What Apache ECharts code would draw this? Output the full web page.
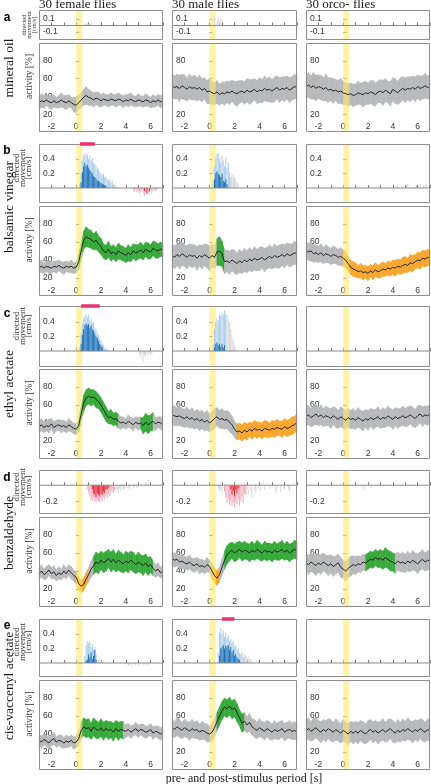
<!DOCTYPE html>
<html><head><meta charset="utf-8">
<script src="https://cdn.jsdelivr.net/npm/echarts@6/dist/echarts.min.js"></script>
<style>html,body{margin:0;padding:0;background:#fff}#c{width:431px;height:784px}</style>
</head><body><div id="c"></div><script>
// ---------------- DATA ----------------
const rowKeys = ['a','b','c','d','e'];
const colKeys = ['F','M','O'];
const rowNames = ['mineral oil','balsamic vinegar','ethyl acetate','benzaldehyde','cis-vaccenyl acetate'];
const colTitles = ['30 female flies','30 male flies','30 orco- flies'];
const xAxisTitle = 'pre- and post-stimulus period [s]';
const xTickLabels = [-2,0,2,4,6];
const activityTicks = [20,40,60,80];
const stimulusWindow = [0, 0.5];
const timeStart = -3, timeEnd = 7;

// activity mean [%] every 0.2 s from -3 to 7 s
const mean_aF = [33,35,34,36,34,33,35,33,34,36, 34,33,35,33,31,30,33,36,39,41, 39,38,36,38,37,35,37,36,35,37, 36,35,37,36,34,36,35,37,35,34, 36,35,34,36,35,33,35,34,36,34,35];
const mean_aM = [52,50,51,49,52,50,48,51,49,50, 48,50,47,49,45,46,44,43,45,42, 44,43,45,44,46,44,43,45,46,44, 47,45,46,48,45,47,46,49,47,48, 46,48,50,47,49,48,50,47,49,51,50];
const mean_aO = [51,53,50,52,49,51,50,48,50,47, 48,46,47,45,46,44,43,42,43,41, 42,44,43,42,44,43,45,44,42,45, 46,44,47,45,43,48,46,44,47,49, 47,49,48,50,48,51,49,50,52,50,51];
const mean_bF = [32,33,31,33,32,31,33,32,34,32, 31,33,32,33,31,32,38,50,62,66, 64,63,60,62,58,55,50,48,52,47, 49,46,50,48,47,45,48,46,50,48, 49,51,48,52,50,49,53,51,50,52,51];
const mean_bM = [45,43,46,44,47,45,43,46,44,45, 42,45,43,46,44,42,45,43,49,50, 47,38,39,37,40,38,36,39,37,40, 38,41,39,42,40,41,43,40,42,44, 42,45,43,44,46,44,47,45,46,48,47];
const mean_bO = [51,49,50,47,48,46,48,45,47,46, 44,46,45,43,44,42,40,36,32,30, 29,27,28,26,27,25,28,26,29,27, 28,30,29,31,30,32,31,33,32,34, 35,34,37,36,38,40,39,42,41,43,42];
const mean_cF = [36,38,35,37,36,39,35,37,38,36, 37,35,38,36,34,33,37,50,62,68, 70,68,69,66,64,60,55,50,46,47, 44,45,42,40,41,39,42,40,38,41, 39,40,37,41,38,40,42,39,41,40,38];
const mean_cM = [49,48,47,48,46,45,47,44,46,43, 45,42,44,41,43,40,42,45,47,44, 45,43,44,41,38,33,30,31,29,32, 30,33,31,34,32,33,31,34,33,32, 34,33,35,34,33,36,34,35,37,38,41];
const mean_cO = [47,49,46,48,50,47,49,46,48,47, 45,48,46,44,47,45,43,46,44,45, 43,46,44,42,45,43,46,44,45,47, 44,46,45,48,46,44,47,45,46,48, 46,47,49,47,45,48,50,47,49,48,50];
const mean_dF = [37,40,36,38,41,37,39,35,38,36, 40,37,41,38,35,33,26,23,25,31, 36,42,46,50,48,52,49,51,54,50, 53,49,52,50,48,51,49,52,50,47, 50,48,46,49,45,47,43,40,42,38,40];
const mean_dM = [54,52,53,50,51,49,48,50,47,46, 48,45,46,44,47,45,40,35,32,36, 44,52,58,61,63,60,62,64,61,63, 62,60,63,61,64,62,60,63,61,62, 60,63,61,62,64,61,63,60,62,64,63];
const mean_dO = [49,47,50,48,46,49,47,50,48,46, 48,45,47,49,44,42,40,43,45,47, 46,48,47,50,49,51,53,52,55,53, 54,52,55,53,51,50,48,51,49,50, 48,51,49,52,50,48,51,53,50,52,51];
const mean_eF = [33,31,34,32,30,33,35,31,33,32, 30,32,31,33,30,31,35,44,48,46, 47,43,48,45,44,47,43,46,44,45, 42,46,43,45,44,43,45,42,44,46, 43,45,44,42,43,45,41,43,42,40,41];
const mean_eM = [47,45,48,46,44,47,45,43,46,44, 45,42,44,43,41,40,42,47,54,60, 66,70,68,71,67,69,64,58,52,54, 50,53,48,46,44,47,45,43,46,44, 42,45,43,44,46,42,44,45,43,44,42];
const mean_eO = [44,46,43,45,47,44,42,45,43,46, 44,42,45,43,41,44,42,40,43,41, 43,41,44,42,40,43,45,42,44,41, 43,45,42,44,46,43,41,44,42,45, 43,46,44,42,45,43,46,44,42,45,44];

// half-width of the error band [%], same time grid
const sem_aF = [7,8,7,6,7,8,7,6,7,8, 7,8,7,6,8,9,8,8,9,10, 9,8,8,7,8,7,7,6,7,7, 6,7,7,6,7,6,7,7,6,6, 7,6,6,7,6,6,7,6,6,7,6];
const sem_aM = [14,13,14,15,13,14,13,14,13,14, 13,14,13,12,13,14,13,12,13,12, 12,13,12,13,12,13,14,13,12,13, 13,14,13,12,13,14,13,14,13,14, 13,14,13,14,13,14,13,14,13,14,13];
const sem_aO = [13,14,13,15,14,13,14,13,15,14, 13,14,12,13,14,13,12,13,12,13, 12,13,12,14,13,12,13,14,13,12, 13,14,13,12,14,13,14,13,14,13, 14,13,14,13,14,13,14,13,14,13,14];
const sem_bF = [6,7,6,6,7,6,6,7,6,6, 7,6,6,7,6,6,8,9,10,11, 10,10,9,10,9,9,8,8,9,8, 8,8,9,8,8,8,9,8,8,9, 8,9,8,8,9,8,8,9,8,8,8];
const sem_bM = [12,13,12,14,13,12,13,12,13,12, 13,12,13,12,13,14,13,12,15,16, 14,13,12,13,12,13,12,13,12,13, 12,13,12,13,12,13,12,13,12,13, 12,13,12,13,12,13,12,13,12,13,12];
const sem_bO = [9,10,9,10,9,9,10,9,10,9, 9,10,9,9,10,9,9,8,8,8, 8,7,8,8,7,8,7,8,8,7, 8,8,7,8,8,8,9,8,8,9, 9,8,9,9,8,9,9,9,9,9,9];
const sem_cF = [6,7,6,6,7,6,7,6,6,7, 6,6,7,6,6,6,7,8,9,9, 9,9,8,9,8,8,8,8,7,8, 7,7,8,7,6,6,7,6,7,6, 7,6,9,10,10,9,10,7,6,7,6];
const sem_cM = [10,11,10,11,10,10,11,10,11,10, 10,11,10,10,11,10,10,11,10,10, 11,10,10,11,10,9,9,9,9,9, 9,8,9,9,9,8,9,9,9,8, 9,9,9,8,9,9,9,9,10,9,10];
const sem_cO = [10,11,10,11,11,10,11,10,11,10, 11,10,11,10,11,11,10,11,10,11, 10,11,10,11,10,11,10,11,10,11, 10,11,10,11,10,11,10,11,10,11, 10,11,10,11,10,11,10,11,10,11,10];
const sem_dF = [6,7,6,7,6,6,7,6,7,6, 7,6,6,7,6,7,7,7,7,7, 8,9,10,11,11,10,11,11,10,11, 11,10,11,11,10,11,11,10,11,10, 11,10,11,10,10,9,8,7,7,6,7];
const sem_dM = [7,8,7,7,8,7,7,8,7,8, 7,8,7,7,8,7,8,8,8,8, 9,10,10,10,9,10,10,9,10,10, 9,10,10,9,10,10,9,10,10,9, 10,10,9,10,10,9,10,10,9,10,10];
const sem_dO = [10,11,10,10,11,10,11,10,10,11, 10,11,10,10,11,10,11,10,11,10, 10,9,9,9,9,9,9,9,9,9, 10,10,11,10,11,10,11,10,10,11, 10,11,10,11,10,11,10,11,10,11,10];
const sem_eF = [6,7,6,6,7,6,7,6,6,7, 6,7,6,6,7,6,8,9,10,10, 10,9,10,10,9,10,10,9,10,9, 10,9,10,9,10,7,7,7,6,7, 7,6,7,7,6,7,7,6,7,7,6];
const sem_eM = [10,9,10,10,9,10,9,10,10,9, 10,9,10,9,10,9,10,10,10,10, 10,10,10,10,10,10,10,9,10,10, 9,10,9,10,9,10,9,10,9,10, 9,10,9,10,9,10,9,10,9,10,9];
const sem_eO = [11,12,11,12,11,11,12,11,12,11, 12,11,12,11,11,12,11,12,11,12, 11,12,11,12,11,12,11,12,11,12, 11,12,11,12,11,12,11,12,11,12, 11,12,11,12,11,12,11,12,11,12,11];

// significant periods: [start s, end s, 1 = increase (green), 2 = decrease (orange)]
const sig_bF = [[0.3,7,1]];
const sig_bM = [[0.6,1.2,1]];
const sig_bO = [[0.1,7,2]];
const sig_cF = [[0.3,3.4,1],[5.2,6.2,1]];
const sig_cM = [[2.2,7,2]];
const sig_dF = [[0.0,1.0,2],[1.4,6.2,1]];
const sig_dM = [[0.2,0.8,2],[1.2,7,1]];
const sig_dO = [[1.8,4.2,1]];
const sig_eF = [[0.4,3.8,1]];
const sig_eM = [[0.6,2.8,1]];

// directed movement [cm/s], bars every 0.1 s: [start time, values]
const light_bF = [[0.3,[0.05,0.2,0.38,0.45,0.48,0.44,0.47,0.4,0.45,0.38,0.42,0.35,0.33,0.3,0.28,0.25,0.22,0.2,0.18,0.2,0.15,0.16,0.12,0.1,0.12,0.08,0.1,0.05]],
                  [4.6,[-0.03,-0.05,-0.02,-0.06,-0.04,-0.08,-0.05,-0.03,-0.07,-0.1,-0.06,-0.04,-0.09,-0.05,-0.03,-0.07,-0.04,-0.02,-0.05,-0.03]]];
const dark_bF = [[0.4,[0.08,0.22,0.3,0.34,0.3,0.32,0.28,0.25,0.22,0.2,0.16,0.15,0.13,0.1,0.1,0.08,0.07,0.06,0.05,0.04,0.03]],
                 [5.5,[-0.04,0,-0.08,0,-0.05]]];
const gray_bF = [[3.1,[0.04,0.03,0.02]]];
const gray_aF = [[0.7,[0.03,0.02,0.04,0.02,0.03,0.04]]];
const gray_aM = [[0.4,[0.14,0,0.08,0.12,0.06,0.1]]];
const light_bM = [[0.3,[0.1,0.3,0.42,0.47,0.48,0.4,0.35,0.44,0.38,0.3,0.42,0.28,0.35,0.22,0.15]]];
const dark_bM = [[0.4,[0.12,0.2,0.23,0.2,0.18,0.15,0.2,0.1,0.08,0.12,0.05]]];
const gray_bM = [[1.8,[0.2,0.18,0.15,0.12,0.08,0.05]]];
const gray_bO = [[4.2,[0.03,0,0.05,0,0,0.04,0,0,0,0.05,0.06,0,0,0,0,0.02,0,0.04,0,0.03,0.05,0,0,0.04,0.03,0.05]]];
const light_cF = [[0.3,[0.05,0.25,0.38,0.45,0.48,0.5,0.46,0.5,0.42,0.45,0.38,0.4,0.32,0.3,0.25,0.22,0.18,0.15,0.1,0.08,0.05,0.03]]];
const dark_cF = [[0.4,[0.1,0.22,0.3,0.36,0.38,0.35,0.37,0.32,0.35,0.3,0.28,0.24,0.2,0.18,0.14,0.1,0.08,0.05]]];
const gray_cF = [[2.5,[0.03,0.02]],[5.1,[-0.05,-0.1,-0.04,-0.15,-0.06,-0.08,-0.03,-0.05,-0.02,-0.06,-0.04]]];
const light_cM = [[0.3,[0.1,0.3,0.4,0.45,0.42,0.5,0.48,0.52,0.5,0.56,0.5]]];
const dark_cM = [[0.4,[0.05,0.1,0.12,0.08,0.1,0.06,0.1,0.05,0.08]]];
const gray_cM = [[1.4,[0.5,0.45,0.4,0.3,0.22,0.15,0.08,0.03]]];
const light_dF = [[0.9,[-0.05,-0.1,-0.14,-0.18,-0.2,-0.15,-0.2,-0.22,-0.18,-0.2,-0.22,-0.17,-0.2,-0.15,-0.18,-0.14,-0.16,-0.12,-0.14,-0.1,-0.08,-0.1,-0.06]]];
const dark_dF = [[1.3,[-0.05,-0.1,-0.12,-0.15,-0.1,-0.12,-0.14,-0.1,-0.12,-0.08,-0.1,-0.06,-0.05,-0.03]]];
const gray_dF = [[3.2,[-0.08,-0.05,-0.1,-0.04,-0.07,-0.03,-0.06,-0.05,-0.02,-0.04,-0.03,-0.05,-0.02,0,-0.03,-0.02,0,-0.04,-0.02]],[5.6,[0.04,0,0.07]]];
const light_dM = [[1.2,[-0.08,-0.15,-0.22,-0.18,-0.25,-0.2,-0.26,-0.22,-0.28,-0.2,-0.24,-0.18,-0.26,-0.2,-0.15,-0.22,-0.1,-0.12]]];
const dark_dM = [[1.7,[-0.05,-0.12,-0.08,-0.14,-0.06,-0.1,-0.04]]];
const gray_dM = [[0.7,[-0.04,-0.08,-0.05,-0.1]],[3.0,[-0.05,-0.12,0,-0.08,-0.15,0,-0.06,-0.1,0,-0.05,0,-0.08,0,0,-0.06,0,0,0,-0.04,0,-0.03,0,0,-0.1,-0.05,0,0,-0.08,0,-0.04,-0.06,0,0,-0.05,-0.08,0]]];
const gray_dO = [[1.5,[-0.03,0,-0.05,0,-0.02,0,0.03,0,-0.04]]];
const light_eF = [[0.7,[0.1,0.25,0.3,0.28,0.3,0.22,0.26,0.18,0.22,0.12]]];
const dark_eF = [[0.8,[0.03,0.05,0.12,0.08,0.15,0.06,0.1,0.18,0.05]]];
const gray_eF = [[1.7,[0.05,0.04,0.06,0.03,0.02,0.03]],[4.0,[-0.02,0,-0.04,-0.03,0,-0.05,0,-0.02,-0.03,0,-0.04,0,-0.02,0,-0.03,-0.02,0,-0.03,-0.02]]];
const light_eM = [[0.7,[0.15,0.42,0.48,0.4,0.45,0.36,0.42,0.35,0.38,0.3,0.33,0.28,0.3,0.22,0.25,0.18,0.2,0.14,0.12,0.15,0.08]]];
const dark_eM = [[0.8,[0.1,0.2,0.22,0.25,0.2,0.24,0.22,0.25,0.18,0.22,0.15,0.18,0.1,0.12,0.08,0.06,0.04]]];
const gray_eM = [[2.8,[0.12,0.1,0.08,0.1,0.05,0.06,0.03]]];

// significance bars above directed-movement panels [start s, end s]
const sigBar_bF = [0.3, 1.5];
const sigBar_cF = [0.4, 1.9];
const sigBar_eM = [1.0, 2.0];

// directed-movement tick labels
const dirTicks_a = [-0.1, 0.1];
const dirTicks_b = [0.2, 0.4];
const dirTicks_c = [0.2, 0.4];
const dirTicks_d = [-0.2];
const dirTicks_e = [0.2, 0.4];

// ---------------- LAYOUT / STYLE ----------------
const colLeft = [39, 172, 306], colW = [124, 125, 124];
const topY = [10, 144, 306, 470, 619], topH = [30, 59, 61, 44, 58];
const botY = [43, 206, 369, 517, 680], botH = [89, 90, 90, 90, 90];
const dirRange = [[-0.223,0.238],[-0.207,0.607],[-0.22,0.62],[-0.36,0.19],[-0.193,0.607]];
const SANS = 'Liberation Sans, Arial, sans-serif';
const SERIF = 'Liberation Serif, Times New Roman, serif';
const FRAME = '#8e8e8e';
const BAND_COLORS = ['#b8b9bb', '#37a93a', '#f8a62e'];
const BAR_COLORS = {lightPos:'#abcdeb', darkPos:'#2374b8', lightNeg:'#f6b0bd', darkNeg:'#e2313e', gray:'#d8d8d8'};
const STIM_FILL = 'rgba(252,234,110,0.6)';

const MEAN = {aF:mean_aF,aM:mean_aM,aO:mean_aO,bF:mean_bF,bM:mean_bM,bO:mean_bO,cF:mean_cF,cM:mean_cM,cO:mean_cO,dF:mean_dF,dM:mean_dM,dO:mean_dO,eF:mean_eF,eM:mean_eM,eO:mean_eO};
const SEM = {aF:sem_aF,aM:sem_aM,aO:sem_aO,bF:sem_bF,bM:sem_bM,bO:sem_bO,cF:sem_cF,cM:sem_cM,cO:sem_cO,dF:sem_dF,dM:sem_dM,dO:sem_dO,eF:sem_eF,eM:sem_eM,eO:sem_eO};
const SIG = {bF:sig_bF,bM:sig_bM,bO:sig_bO,cF:sig_cF,cM:sig_cM,dF:sig_dF,dM:sig_dM,dO:sig_dO,eF:sig_eF,eM:sig_eM};
const LIGHT = {bF:light_bF,bM:light_bM,cF:light_cF,cM:light_cM,dF:light_dF,dM:light_dM,eF:light_eF,eM:light_eM};
const DARK = {bF:dark_bF,bM:dark_bM,cF:dark_cF,cM:dark_cM,dF:dark_dF,dM:dark_dM,eF:dark_eF,eM:dark_eM};
const GRAY = {aF:gray_aF,aM:gray_aM,bF:gray_bF,bM:gray_bM,bO:gray_bO,cF:gray_cF,cM:gray_cM,dF:gray_dF,dM:gray_dM,dO:gray_dO,eF:gray_eF,eM:gray_eM};
const SIGBAR = {bF:sigBar_bF,cF:sigBar_cF,eM:sigBar_eM};
const DIRTICKS = {aF:dirTicks_a,aM:dirTicks_a,aO:dirTicks_a,bF:dirTicks_b,bM:dirTicks_b,bO:dirTicks_b,cF:dirTicks_c,cM:dirTicks_c,cO:[],dF:dirTicks_d,dM:dirTicks_d,dO:dirTicks_d,eF:dirTicks_e,eM:dirTicks_e,eO:[]};

// ---------------- RENDER HELPERS ----------------
function frameRender(params, api){
  const cs = params.coordSys;
  return {type:'rect', silent:true, shape:{x:Math.round(cs.x)+0.5, y:Math.round(cs.y)+0.5, width:Math.round(cs.width)-1, height:Math.round(cs.height)-1},
          style:{fill:'none', stroke:FRAME, lineWidth:1}};
}
function stimRender(params, api){
  const cs = params.coordSys;
  const a = api.coord([api.value(0), 0]), b = api.coord([api.value(1), 0]);
  return {type:'rect', silent:true, shape:{x:a[0], y:cs.y, width:b[0]-a[0], height:cs.height}, style:{fill:STIM_FILL}};
}
function bandRender(params, api){
  const p1 = api.coord([api.value(0), api.value(2)]);
  const p2 = api.coord([api.value(3), api.value(5)]);
  const p3 = api.coord([api.value(3), api.value(4)]);
  const p4 = api.coord([api.value(0), api.value(1)]);
  const col = BAND_COLORS[api.value(6)];
  return {type:'polygon', silent:true, shape:{points:[p1,p2,p3,p4]}, style:{fill:col, stroke:col, lineWidth:0.5}};
}
function barRender(params, api){
  const t = api.value(0), v = api.value(1), k = api.value(2);
  const p0 = api.coord([t-0.042, 0]), p1 = api.coord([t+0.042, v]);
  let col;
  if (k === 2) col = BAR_COLORS.gray;
  else if (k === 0) col = v >= 0 ? BAR_COLORS.lightPos : BAR_COLORS.lightNeg;
  else col = v >= 0 ? BAR_COLORS.darkPos : BAR_COLORS.darkNeg;
  return {type:'rect', silent:true, shape:{x:Math.min(p0[0],p1[0]), y:Math.min(p0[1],p1[1]), width:Math.abs(p1[0]-p0[0]), height:Math.abs(p1[1]-p0[1])}, style:{fill:col}};
}
function sigColor(key, tm){
  const segs = SIG[key] || [];
  for (const s of segs) if (tm >= s[0] && tm <= s[1]) return s[2];
  return 0;
}

// ---------------- BUILD OPTION ----------------
const option = {animation:false, grid:[], xAxis:[], yAxis:[], series:[], graphic:[]};
const axLabel = {fontSize:8.5, color:'#333', fontFamily:SANS};

for (let r = 0; r < 5; r++) {
  for (let c = 0; c < 3; c++) {
    const key = rowKeys[r] + colKeys[c];
    // --- top: directed movement ---
    const gt = option.grid.length;
    option.grid.push({left:colLeft[c], top:topY[r], width:colW[c], height:topH[r], show:false});
    option.xAxis.push({type:'value', gridIndex:gt, min:timeStart, max:timeEnd, interval:1,
      axisLine:{show:false}, axisTick:{show:true, inside:true, length:3, lineStyle:{color:'#777', width:1}},
      axisLabel:{show:false}, splitLine:{show:false}});
    const tk = DIRTICKS[key];
    option.yAxis.push({type:'value', gridIndex:gt, min:dirRange[r][0], max:dirRange[r][1],
      axisLine:{show:false},
      axisTick:{show:tk.length>0, inside:true, length:3, customValues:tk, lineStyle:{color:'#777'}},
      axisLabel:Object.assign({show:tk.length>0, inside:true, margin:4, customValues:tk}, axLabel),
      splitLine:{show:false}});
    option.series.push({type:'custom', xAxisIndex:gt, yAxisIndex:gt, z:1, silent:true, renderItem:stimRender,
      encode:{x:[0,1], y:2}, data:[[stimulusWindow[0], stimulusWindow[1], 0]]});
    const bars = [];
    const addBars = (list, kind) => (list||[]).forEach(([t0, vals]) => vals.forEach((v, i) => { if (v !== 0) bars.push([+(t0 + 0.1*i).toFixed(2), v, kind]); }));
    addBars(GRAY[key], 2); addBars(LIGHT[key], 0); addBars(DARK[key], 1);
    option.series.push({type:'custom', xAxisIndex:gt, yAxisIndex:gt, z:2, silent:true, renderItem:barRender,
      encode:{x:0, y:1}, data:bars});
    option.series.push({type:'line', xAxisIndex:gt, yAxisIndex:gt, z:3, silent:true, symbol:'none',
      lineStyle:{color:'#8a8a8a', width:1}, data:[[timeStart,0],[timeEnd,0]]});
    if (SIGBAR[key]) {
      const ym = dirRange[r][1];
      option.series.push({type:'line', xAxisIndex:gt, yAxisIndex:gt, z:6, silent:true, symbol:'none', clip:false,
        lineStyle:{color:'#e8336c', width:3.5, cap:'butt'}, data:[[SIGBAR[key][0], ym],[SIGBAR[key][1], ym]]});
    }
    option.series.push({type:'custom', xAxisIndex:gt, yAxisIndex:gt, z:5, silent:true, renderItem:frameRender,
      encode:{x:0, y:1}, data:[[0,0]]});

    // --- bottom: activity ---
    const gb = option.grid.length;
    option.grid.push({left:colLeft[c], top:botY[r], width:colW[c], height:botH[r], show:false});
    option.xAxis.push({type:'value', gridIndex:gb, min:timeStart, max:timeEnd, interval:1,
      axisLine:{show:false}, axisTick:{show:false},
      axisLabel:Object.assign({inside:true, margin:1, customValues:xTickLabels}, axLabel),
      splitLine:{show:false}});
    option.yAxis.push({type:'value', gridIndex:gb, min:0, max:100,
      axisLine:{show:false},
      axisTick:{show:true, inside:true, length:3, customValues:activityTicks, lineStyle:{color:'#777'}},
      axisLabel:Object.assign({inside:true, margin:4, customValues:activityTicks}, axLabel),
      splitLine:{show:false}});
    const m = MEAN[key], s = SEM[key];
    const n = m.length, dt = (timeEnd - timeStart) / (n - 1);
    const tt = i => +(timeStart + i*dt).toFixed(3);
    const quads = [];
    for (let i = 0; i < n - 1; i++) {
      const t0 = tt(i), t1 = tt(i+1);
      quads.push([t0, m[i]-s[i], m[i]+s[i], t1, m[i+1]-s[i+1], m[i+1]+s[i+1], sigColor(key, (t0+t1)/2)]);
    }
    option.series.push({type:'custom', xAxisIndex:gb, yAxisIndex:gb, z:2, silent:true, renderItem:bandRender,
      encode:{x:[0,3], y:[1,2,4,5]}, data:quads});
    option.series.push({type:'custom', xAxisIndex:gb, yAxisIndex:gb, z:3, silent:true, renderItem:stimRender,
      encode:{x:[0,1], y:2}, data:[[stimulusWindow[0], stimulusWindow[1], 50]]});
    option.series.push({type:'line', xAxisIndex:gb, yAxisIndex:gb, z:4, silent:true, symbol:'none',
      lineStyle:{color:'#151515', width:0.9}, data:m.map((v,i)=>[tt(i), v])});
    option.series.push({type:'custom', xAxisIndex:gb, yAxisIndex:gb, z:5, silent:true, renderItem:frameRender,
      encode:{x:0, y:1}, data:[[0,50]]});
  }
}

// ---------------- TEXTS ----------------
function txt(x, y, text, size, family, extra){
  extra = extra || {};
  return {type:'text', x:x, y:y, rotation:extra.rot||0, silent:true, z:10,
    style:{text:text, fontSize:size, fontFamily:family, fontWeight:extra.fw||'normal', fill:extra.fill||'#1a1a1a',
           align:extra.align||'center', verticalAlign:'middle', lineHeight:extra.lh||size*1.2}};
}
const R = Math.PI/2;
colTitles.forEach((t, c) => option.graphic.push(txt(colLeft[c], 4.5, t, 13, SERIF, {align:'left'})));
const rowLabelY = [68, 207, 384, 533, 686];
rowNames.forEach((t, r) => option.graphic.push(txt(9, rowLabelY[r], t, 13.5, SERIF, {rot:R})));
const letterY = [18, 151, 314, 478, 626];
rowKeys.forEach((t, r) => option.graphic.push(txt(7, letterY[r], t, 12, SANS, {fw:'bold', fill:'#000'})));
const dirLabelX = [29, 23, 23, 23, 23], dirLabelY = [25, 168, 326, 487, 642];
const dirSize = [6.5, 9, 9, 9, 9], dirLH = [5, 6, 6, 6, 6];
for (let r = 0; r < 5; r++) option.graphic.push(txt(dirLabelX[r], dirLabelY[r], 'directed\nmovement\n[cm/s]', dirSize[r], SERIF, {rot:R, lh:dirLH[r], fill:'#333'}));
for (let r = 0; r < 5; r++) option.graphic.push(txt(29, botY[r] + botH[r]/2 - 11, 'activity [%]', 9.5, SERIF, {rot:R, fill:'#333'}));
option.graphic.push(txt(244, 779, xAxisTitle, 12, SERIF));

const chart = echarts.init(document.getElementById('c'), null, {renderer:'canvas'});
chart.setOption(option);
</script></body></html>
